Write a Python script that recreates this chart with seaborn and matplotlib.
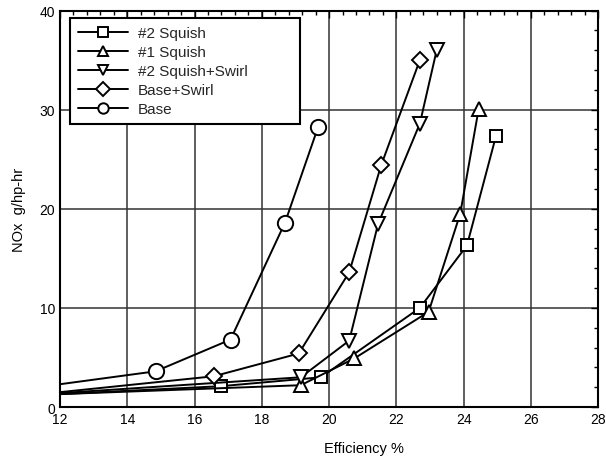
import matplotlib
matplotlib.use("Agg")
import matplotlib.pyplot as plt
import seaborn as sns
import pandas as pd
from matplotlib.ticker import MultipleLocator

sns.set_theme(style="white")
plt.rcParams['font.family'] = ['Liberation Sans', 'DejaVu Sans']

series_names = ["#2 Squish", "#1 Squish", "#2 Squish+Swirl", "Base+Swirl", "Base"]
markers = ["s", "^", "v", "D", "o"]
marker_sizes = [9, 10, 10, 8, 11]

sq2_x = [12.0, 16.78, 19.76, 22.7, 24.1, 24.96]
sq2_y = [1.3, 2.1, 3.0, 10.0, 16.3, 27.3]
sq1_x = [12.0, 19.16, 20.75, 22.96, 23.9, 24.45]
sq1_y = [1.3, 2.2, 4.9, 9.6, 19.5, 30.1]
sqsw_x = [12.0, 19.16, 20.6, 21.46, 22.7, 23.2]
sqsw_y = [1.4, 3.0, 6.7, 18.5, 28.6, 36.0]
bsw_x = [12.0, 16.57, 19.1, 20.6, 21.55, 22.7]
bsw_y = [1.5, 3.1, 5.4, 13.6, 24.4, 35.0]
base_x = [12.0, 14.84, 17.07, 18.69, 19.67]
base_y = [2.3, 3.6, 6.8, 18.6, 28.2]

xs = [sq2_x, sq1_x, sqsw_x, bsw_x, base_x]
ys = [sq2_y, sq1_y, sqsw_y, bsw_y, base_y]

fig = plt.figure(figsize=(6.06, 4.6), dpi=100)
ax = fig.add_axes([0.099, 0.113, 0.888, 0.862])

for name, x, y, m, ms in zip(series_names, xs, ys, markers, marker_sizes):
    df = pd.DataFrame({"x": x, "y": y})
    sns.lineplot(data=df, x="x", y="y", ax=ax, color="black", linewidth=1.4,
                 marker=m, markersize=ms, markerfacecolor="white",
                 markeredgecolor="black", markeredgewidth=1.4,
                 markevery=list(range(1, len(x))), label=name, sort=False,
                 zorder=3)

ax.set_xlim(12, 28)
ax.set_ylim(0, 40)
ax.xaxis.set_major_locator(MultipleLocator(2))
ax.xaxis.set_minor_locator(MultipleLocator(0.4))
ax.yaxis.set_major_locator(MultipleLocator(10))
ax.yaxis.set_minor_locator(MultipleLocator(2))
ax.grid(True, which="major", color="#333333", linewidth=1.1)
ax.tick_params(which="both", direction="in", top=True, right=True, colors="black",
               labelsize=10)
ax.tick_params(which="major", length=5, width=1)
ax.tick_params(which="minor", length=3, width=1)
for s in ax.spines.values():
    s.set_color("black")
    s.set_linewidth(1.5)

ax.set_xlabel("Efficiency %", fontsize=10.5, color="black")
ax.xaxis.set_label_coords(0.565, -0.086)
ax.set_ylabel("NOx  g/hp-hr", fontsize=10.5, color="black", labelpad=10)

leg = ax.legend(loc="upper left", bbox_to_anchor=(0.019, 0.73, 0.4275, 0.25),
                mode="expand", fontsize=11,
                frameon=True, fancybox=False, edgecolor="black", framealpha=1,
                borderaxespad=0, labelspacing=0.33, handlelength=3.3,
                handletextpad=0.65, borderpad=0.5)
leg.get_frame().set_linewidth(1.5)
leg.set_zorder(5)
for h in leg.legend_handles:
    h.set_markersize(7.5)

fig.savefig("out.png", dpi=100)
